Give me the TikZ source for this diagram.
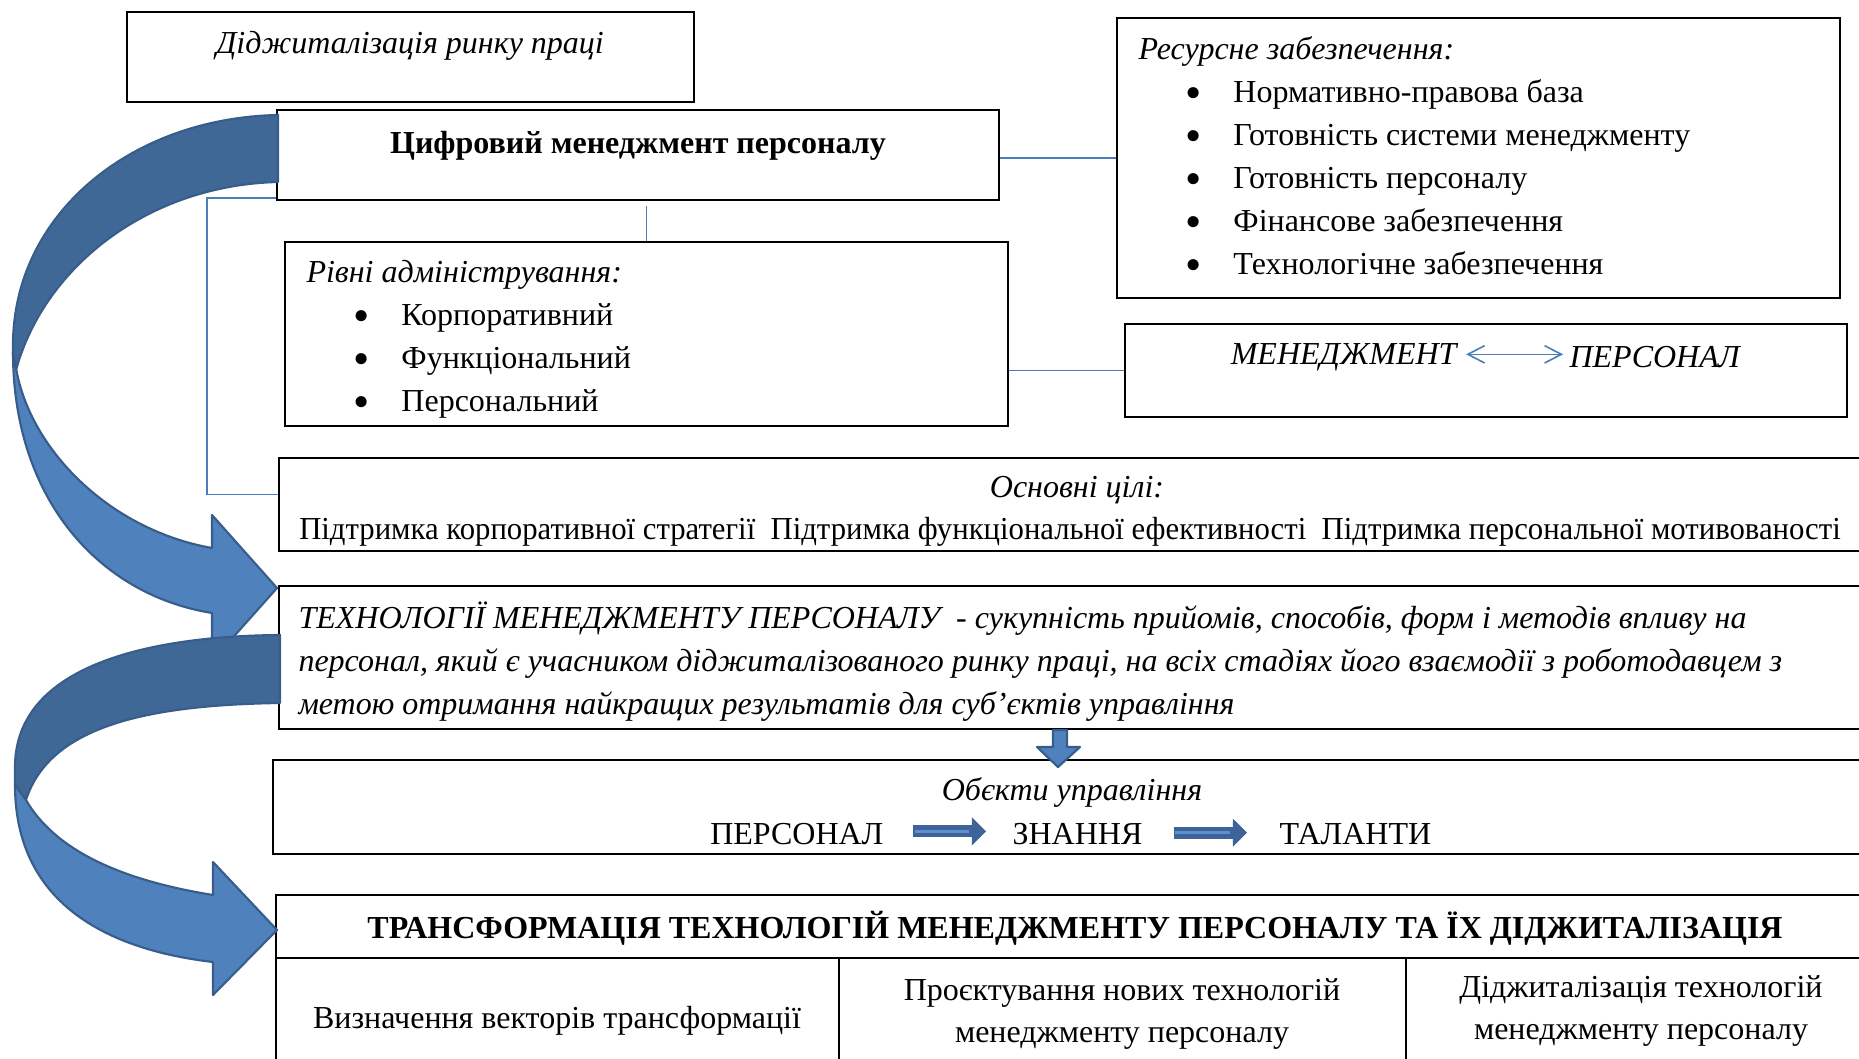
\documentclass[tikz,border=0pt]{standalone}
\usepackage{fontspec}
\setmainfont{Liberation Serif}
\usetikzlibrary{positioning, calc, arrows.meta}

\definecolor{linkblue}{HTML}{4A7EBB}
\definecolor{arrowdark}{HTML}{406896}
\definecolor{arrowlight}{HTML}{4F81BD}
\definecolor{arrowedge}{HTML}{385D8A}
\definecolor{objblue}{HTML}{3D6399}
\definecolor{stripeblue}{HTML}{5B8FCF}

\newcommand{\pxu}{0.375pt}
\newcommand{\itm}[1]{\hspace*{17.6pt}\makebox[18pt][l]{\raisebox{-2.3pt}{\scalebox{1.45}{\textbullet}}}#1}

\begin{document}
\begin{tikzpicture}[x=0.375pt, y=-0.375pt,
  box/.style={draw, line width=0.7pt, inner sep=0pt},
  txt/.style={inner sep=0pt, font=\fontsize{12}{16.1}\selectfont},
  itxt/.style={inner sep=0pt, font=\fontsize{12}{16.1}\selectfont\itshape},
  btxt/.style={inner sep=0pt, font=\fontsize{12}{16.1}\selectfont\bfseries},
  link/.style={draw=linkblue, line width=0.6pt},
  backpart/.style={fill=arrowdark, draw=arrowedge, line width=0.8pt, line join=round},
  frontpart/.style={fill=arrowlight, draw=arrowedge, line width=0.8pt, line join=round},
  fatarrow/.style={draw=objblue, line width=4.5pt, -{Triangle[length=5.3pt, width=10.2pt]}},
  stripe/.style={draw=stripeblue, line width=1pt}
]
  \useasboundingbox (0,0) rectangle (1859,1059);
  \clip (0,0) rectangle (1859,1059);

  % boxes
  \node[box, minimum width=567*\pxu, minimum height=90*\pxu] (labour) at (410.5,57) {};
  \node[box, minimum width=722*\pxu, minimum height=90*\pxu] (mgmt) at (638,155) {};
  \node[box, minimum width=723*\pxu, minimum height=280*\pxu] (res) at (1478.5,158) {};
  \node[box, minimum width=723*\pxu, minimum height=184*\pxu] (levels) at (646.5,334) {};
  \node[box, minimum width=722*\pxu, minimum height=93*\pxu] (dual) at (1486,370.5) {};
  \node[box, minimum width=1595*\pxu, minimum height=93*\pxu] (goals) at (1076.5,504.5) {};
  \node[box, minimum width=1595*\pxu, minimum height=143*\pxu] (techs) at (1076.5,657.5) {};
  \node[box, minimum width=1601*\pxu, minimum height=94*\pxu] (objs) at (1073.5,807) {};
  \node[box, minimum width=1598*\pxu, minimum height=63*\pxu] (trans) at (1075,926.5) {};
  \node[box, minimum width=563*\pxu, minimum height=112*\pxu] (cell1) at (557.5,1014) {};
  \node[box, minimum width=567*\pxu, minimum height=112*\pxu] (cell2) at (1122.5,1014) {};
  \node[box, minimum width=468*\pxu, minimum height=112*\pxu] (cell3) at (1640,1014) {};

  % texts
  \node[itxt] (labour-t) at (410,45.5) {Діджиталізація ринку праці};
  \node[btxt] (mgmt-t) at (638,146) {Цифровий менеджмент персоналу};
  \node[txt, align=left, anchor=west] (res-t) at (1138,158.5) {{\itshape Ресурсне забезпечення:}\\
    \itm{Нормативно-правова база}\\
    \itm{Готовність системи менеджменту}\\
    \itm{Готовність персоналу}\\
    \itm{Фінансове забезпечення}\\
    \itm{Технологічне забезпечення}};
  \node[txt, align=left, anchor=west] (levels-t) at (306,339.5) {{\itshape Рівні адміністрування:}\\
    \itm{Корпоративний}\\
    \itm{Функціональний}\\
    \itm{Персональний}};
  \node[itxt, anchor=east] (mgr) at (1457,357) {МЕНЕДЖМЕНТ};
  \node[itxt, anchor=west] (staff) at (1569,357) {ПЕРСОНАЛ};
  \node[itxt] (goals-h) at (1077,490.5) {Основні цілі:};
  \node[txt] (goals-t) at (1070,532) {\scalebox{0.96}[1]{Підтримка корпоративної стратегії~ Підтримка функціональної ефективності~ Підтримка персональної мотивованості}};
  \node[itxt, align=left, anchor=west] (techs-t) at (298,661.5) {ТЕХНОЛОГІЇ МЕНЕДЖМЕНТУ ПЕРСОНАЛУ~ - сукупність прийомів, способів, форм і методів впливу на\\
    персонал, який є учасником діджиталізованого ринку праці, на всіх стадіях його взаємодії з роботодавцем з\\
    метою отримання найкращих результатів для суб’єктів управління};
  \node[itxt] (objs-h) at (1072,792.5) {Обєкти управління};
  \node[txt, anchor=east] (pers) at (884,834) {ПЕРСОНАЛ};
  \node[txt] (know) at (1077.5,834) {ЗНАННЯ};
  \node[txt, anchor=west] (talent) at (1279,834) {ТАЛАНТИ};
  \node[btxt] (trans-t) at (1075,928.5) {ТРАНСФОРМАЦІЯ ТЕХНОЛОГІЙ МЕНЕДЖМЕНТУ ПЕРСОНАЛУ ТА ЇХ ДІДЖИТАЛІЗАЦІЯ};
  \node[txt] (cell1-t) at (557,1020.5) {Визначення векторів трансформації};
  \node[txt, align=center] (cell2-t) at (1122,1014) {Проєктування нових технологій\\менеджменту персоналу};
  \node[txt, align=center] (cell3-t) at (1641,1011) {Діджиталізація технологій\\менеджменту персоналу};

  % connectors
  \coordinate (bk) at (207,198);
  \draw[link] (res.west -| mgmt.east) -- (res.west);
  \draw[link, shorten >=1.9pt] (levels.north) -- (levels.north |- mgmt.south);
  \draw[link] (dual.west -| levels.east) -- (dual.west);
  \draw[link] (bk -| mgmt.west) -- (bk) |- ([yshift=3.7pt]goals.west);
  \draw[link, shorten <=3.4pt, shorten >=2.2pt, {Straight Barb[length=6.3pt, width=6.5pt]}-{Straight Barb[length=6.3pt, width=6.5pt]}] ([yshift=1pt]mgr.east) -- ([yshift=1pt]staff.west);

  % down arrow
  \filldraw[frontpart] (1053,730) -- (1067,730) -- (1067,747) -- (1080,747) -- (1058,767) -- (1037,747) -- (1053,747) -- cycle;

  % fat arrows between objects
  \draw[fatarrow, shorten <=10.9pt, shorten >=9.75pt] ([yshift=1pt]pers.east) -- ([yshift=1pt]know.west);
  \draw[stripe, shorten <=11.5pt, shorten >=16pt] ([yshift=1pt]pers.east) -- ([yshift=1pt]know.west);
  \draw[fatarrow, shorten <=11.6pt, shorten >=12pt] ([yshift=0.5pt]know.east) -- ([yshift=0.5pt]talent.west);
  \draw[stripe, shorten <=12.2pt, shorten >=18.2pt] ([yshift=0.5pt]know.east) -- ([yshift=0.5pt]talent.west);

  % curved arrow 1
  \filldraw[backpart] (278,115) .. controls (130,118) and (13,215) .. (13,345) -- (13,355) -- (16,370) .. controls (45,265) and (150,185) .. (278,182) -- cycle;
  \filldraw[frontpart] (13,352) .. controls (13,500) and (100,595) .. (212,613) -- (212,661) -- (277,588) -- (212,515) -- (212,548) .. controls (110,530) and (30,450) .. (16,368) -- cycle;

  % curved arrow 2
  \filldraw[backpart] (280,635) .. controls (150,636) and (15,665) .. (15,767) -- (15,785) -- (26,800) .. controls (50,725) and (150,705) .. (280,703) -- cycle;
  \filldraw[frontpart] (15,785) .. controls (15,905) and (110,950) .. (213,962) -- (213,995) -- (277,930) -- (213,862) -- (213,895) .. controls (120,880) and (55,850) .. (26,800) -- cycle;
\end{tikzpicture}
\end{document}
